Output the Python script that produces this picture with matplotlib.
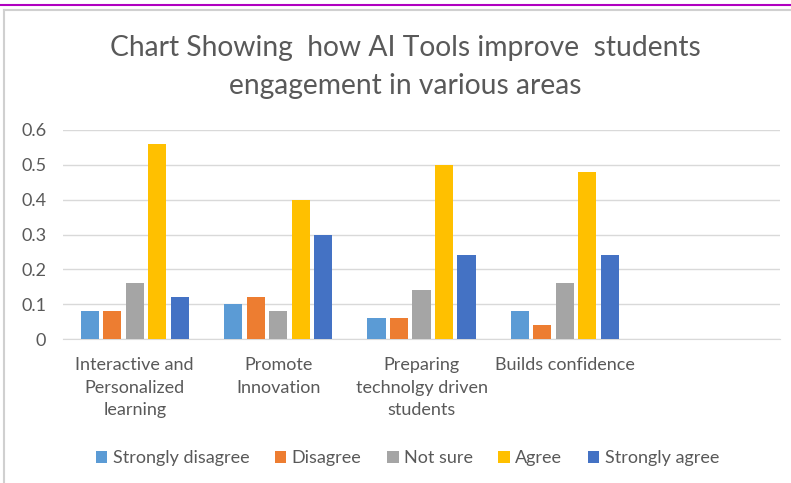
import numpy as np
import matplotlib.pyplot as plt
from matplotlib.lines import Line2D

categories = ['Interactive and\nPersonalized\nlearning', 'Promote\nInnovation',
              'Preparing\ntechnolgy driven\nstudents', 'Builds confidence', '']
series = ['Strongly disagree', 'Disagree', 'Not sure', 'Agree', 'Strongly agree']
strongly_disagree = [0.08, 0.10, 0.06, 0.08, np.nan]
disagree = [0.08, 0.12, 0.06, 0.04, np.nan]
not_sure = [0.16, 0.08, 0.14, 0.16, np.nan]
agree = [0.56, 0.40, 0.50, 0.48, np.nan]
strongly_agree = [0.12, 0.30, 0.24, 0.24, np.nan]
values = [strongly_disagree, disagree, not_sure, agree, strongly_agree]
colors = ['#5B9BD5', '#ED7D31', '#A5A5A5', '#FFC000', '#4472C4']
yticks = [0, 0.1, 0.2, 0.3, 0.4, 0.5, 0.6]
ytick_labels = ['0', '0.1', '0.2', '0.3', '0.4', '0.5', '0.6']

plt.rcParams['font.family'] = ['Lato', 'DejaVu Sans']
txt = '#595959'

fig = plt.figure(figsize=(7.91, 4.83), dpi=100)
ax = fig.add_axes([63 / 791, 1 - 339 / 483, (780 - 63) / 791, (339 - 130) / 483])

x = np.arange(len(categories))
w = 0.126
step = 0.157
for i, (name, vals) in enumerate(zip(series, values)):
    ax.bar(x + (i - 2) * step, vals, width=w, color=colors[i], label=name, zorder=3)

ax.set_xlim(-0.5, len(categories) - 0.5)
ax.set_ylim(0, 0.6)
ax.set_yticks(yticks)
ax.set_yticklabels(ytick_labels)
ax.set_xticks(x)
ax.set_xticklabels(categories, va='top', linespacing=1.5)
ax.tick_params(axis='both', length=0, labelsize=13, colors=txt)
ax.tick_params(axis='y', pad=12)
ax.tick_params(axis='x', pad=13)
for lbl in ax.get_yticklabels():
    lbl.set_horizontalalignment('right')
ax.grid(axis='y', color='#D9D9D9', linewidth=1, zorder=0)
for s in ['top', 'right', 'left']:
    ax.spines[s].set_visible(False)
ax.spines['bottom'].set_color('#D9D9D9')

fig.text(0.512, 1 - 48 / 483, 'Chart Showing  how AI Tools improve  students', ha='center', va='center',
         fontsize=20.3, color=txt)
fig.text(0.512, 1 - 86 / 483, 'engagement in various areas', ha='center', va='center',
         fontsize=20.3, color=txt)

leg = fig.legend(loc='center', bbox_to_anchor=(0.515, 1 - 458 / 483), ncol=5, frameon=False,
                 fontsize=13, handlelength=0.65, handleheight=0.65, handletextpad=0.3,
                 columnspacing=1.4)
for t in leg.get_texts():
    t.set_color(txt)

# top purple rule and frame edges
fig.add_artist(Line2D([0, 1], [1 - 5 / 483, 1 - 5 / 483], color='#B000C0', linewidth=1.5))
fig.add_artist(Line2D([4 / 791, 1], [1 - 10 / 483, 1 - 10 / 483], color='#D0D0D0', linewidth=1.5))
fig.add_artist(Line2D([4 / 791, 4 / 791], [0, 1 - 10 / 483], color='#D0D0D0', linewidth=1.5))

fig.savefig('out.png', dpi=100)
